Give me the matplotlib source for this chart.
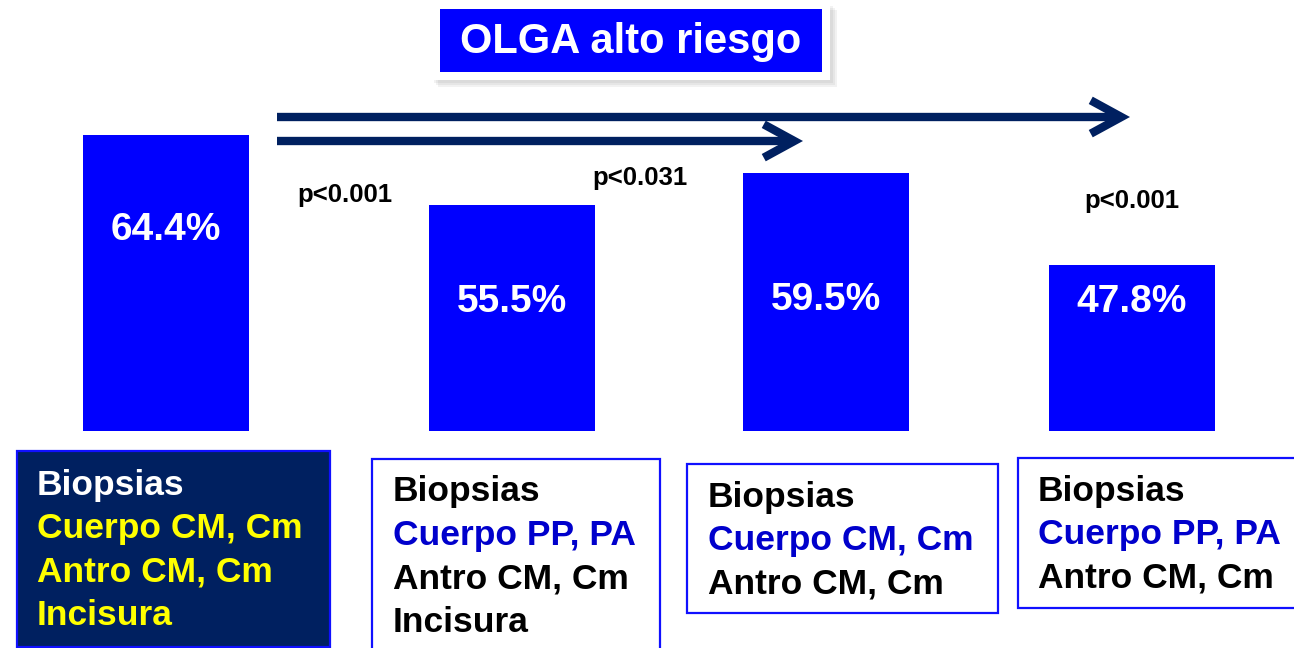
import numpy as np
import matplotlib
matplotlib.use('Agg')
import matplotlib.pyplot as plt
from matplotlib.patches import Rectangle

plt.rcParams['font.family'] = ['Liberation Sans', 'DejaVu Sans']

# data
values = [64.4, 55.5, 59.5, 47.8]
value_labels = ['64.4%', '55.5%', '59.5%', '47.8%']
p_labels = ['p<0.001', 'p<0.031', 'p<0.001']
title = 'OLGA alto riesgo'
box_lines = [
    ['Biopsias', 'Cuerpo CM, Cm', 'Antro CM, Cm', 'Incisura'],
    ['Biopsias', 'Cuerpo PP, PA', 'Antro CM, Cm', 'Incisura'],
    ['Biopsias', 'Cuerpo CM, Cm', 'Antro CM, Cm'],
    ['Biopsias', 'Cuerpo PP, PA', 'Antro CM, Cm'],
]

BLUE = '#0000FF'
NAVY = '#002060'
W, H = 1294, 648

fig = plt.figure(figsize=(W / 100, H / 100), dpi=100)
fig.patch.set_facecolor('white')

# bars axes: spans from top of figure to the bar baseline (px 431)
base_px = 431
ymin, px_per_unit = 26.7, 7.855
ax = fig.add_axes([0, (H - base_px) / H, 1, base_px / H])
bar_x = [165.5, 511.5, 826, 1132]   # slide positions (px)
ax.bar(bar_x, values, width=166, color=BLUE)
ax.set_xlim(0, W)
ax.set_ylim(ymin, ymin + base_px / px_per_unit)
ax.axis('off')

label_y = [52.3, 43.1, 43.4, 43.1]
for i, lab in enumerate(value_labels):
    ax.text(bar_x[i], label_y[i], lab, color='white', fontsize=28,
            fontweight='bold', ha='center', va='center')

# overlay in pixel coordinates
ov = fig.add_axes([0, 0, 1, 1])
ov.set_xlim(0, W)
ov.set_ylim(H, 0)
ov.axis('off')
ov.patch.set_visible(False)

# title box with white frame and soft shadow
for k in range(3):
    ov.add_patch(Rectangle((431 + 3 + k * 2, 3 + 3 + k * 2), 399, 77,
                           facecolor='gray', edgecolor='none', alpha=0.1))
ov.add_patch(Rectangle((431, 3), 399, 77, facecolor='white', edgecolor='none'))
ov.add_patch(Rectangle((440, 9), 382, 63, facecolor=BLUE, edgecolor='none'))
ov.text(631, 42, title, color='white', fontsize=30, fontweight='bold',
        ha='center', va='center')

# arrows
for y, xend in [(117, 1130), (141, 803)]:
    ov.annotate('', xy=(xend, y), xytext=(277, y),
                arrowprops=dict(arrowstyle='->,head_length=2.2,head_width=1.2',
                                lw=6, color=NAVY, shrinkA=0, shrinkB=0,
                                capstyle='butt', joinstyle='miter'))

# p-values
p_pos = [(345, 195), (640, 178), (1132, 201)]
for (px, py), lab in zip(p_pos, p_labels):
    ov.text(px, py, lab, fontsize=18.5, fontweight='bold', color='black',
            ha='center', va='center')

# description boxes
boxes = [(17, 451, 330, 647), (372, 459, 660, 652), (687, 464, 998, 613),
         (1018, 458, 1300, 608)]
text_start = [(37, 485), (393, 492), (708, 497), (1038, 491)]
for i, lines in enumerate(box_lines):
    x0, y0, x1, y1 = boxes[i]
    selected = i == 0
    ov.add_patch(Rectangle((x0, y0), x1 - x0, y1 - y0,
                           facecolor=NAVY if selected else 'white',
                           edgecolor='#1010FF', lw=1.6))
    tx, ty = text_start[i]
    for j, line in enumerate(lines):
        if selected:
            c = 'white' if j == 0 else '#FFFF00'
        else:
            c = '#0000CC' if j == 1 else 'black'
        ov.text(tx, ty + j * 43.5, line, color=c, fontsize=25.5,
                fontweight='bold', ha='left', va='center')

fig.savefig('out.png', dpi=100)
